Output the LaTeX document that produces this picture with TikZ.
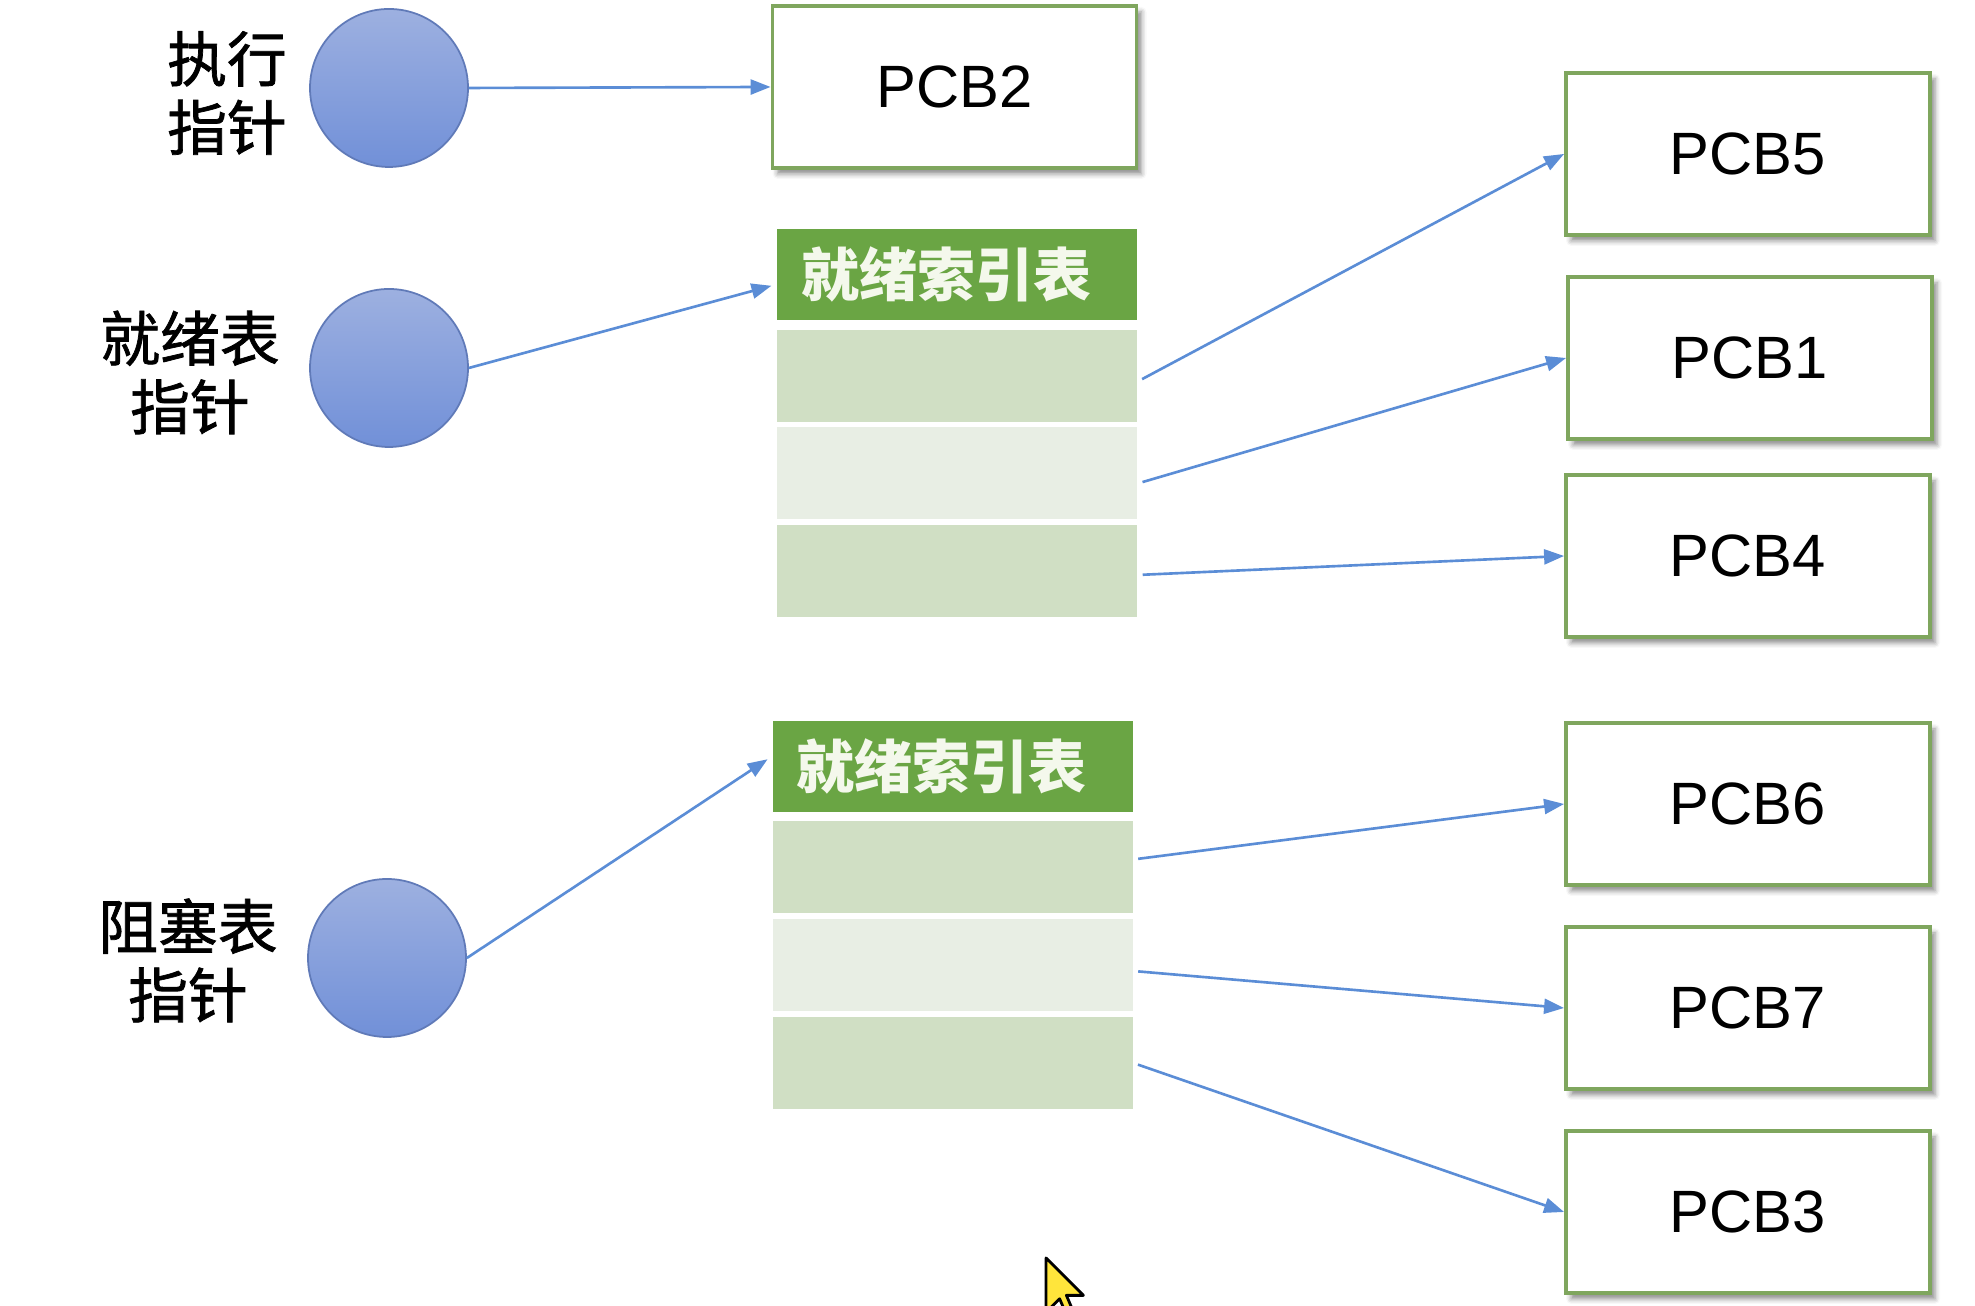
\documentclass[tikz,border=0pt]{standalone}
\usepackage{fontspec}
\setmainfont{Liberation Sans}
\newfontfamily\cjk[FakeBold=1.2]{Noto Sans CJK SC}
\newfontfamily\cjkhead{Noto Sans CJK SC}
\usetikzlibrary{shadows.blur,arrows.meta}

\definecolor{pcbgreen}{HTML}{7FA65E}
\definecolor{headgreen}{HTML}{6AA544}
\definecolor{headtext}{HTML}{F4F8EC}
\definecolor{rowdark}{HTML}{D0DFC4}
\definecolor{rowlight}{HTML}{E8EEE4}
\definecolor{ptrblue}{HTML}{5B8DD6}
\definecolor{balltop}{HTML}{9DB0E0}
\definecolor{ballbot}{HTML}{7190D8}
\definecolor{cursoryellow}{HTML}{FFE53B}

\begin{document}
\begin{tikzpicture}[
    pcb/.style={draw=pcbgreen, line width=1.1pt, fill=white,
        minimum width=3.64cm, minimum height=1.62cm,
        font=\fontsize{17}{20}\selectfont,
        blur shadow={shadow xshift=0.05cm, shadow yshift=-0.06cm,
            shadow blur radius=0.05cm, shadow opacity=45}},
    ball/.style={circle, minimum size=1.58cm, inner sep=0pt,
        draw=ballbot!85!black, line width=0.5pt, top color=balltop, bottom color=ballbot},
    lbl/.style={font=\cjk\fontsize{17}{19.5}\selectfont, align=center},
    head/.style={fill=headgreen, text=headtext, minimum width=3.6cm, minimum height=0.91cm,
        inner sep=0pt, font=\cjkhead\bfseries\fontsize{16.5}{20}\selectfont},
    cell/.style={minimum width=3.6cm, minimum height=0.92cm, inner sep=0pt},
    ptr/.style={draw=ptrblue, line width=0.75pt, -{Triangle[length=0.2cm, width=0.15cm]}}
]
    \useasboundingbox (0,0) rectangle (19.75,13.06);

    % --- Coordinates ---
    \coordinate (E) at (3.89,12.18);   % execution pointer
    \coordinate (R) at (3.89,9.38);    % ready pointer
    \coordinate (K) at (3.87,3.48);    % blocked pointer
    \coordinate (T1) at (9.57,10.315); % ready index table
    \coordinate (T2) at (9.525,5.395); % blocked index table

    % --- Pointer labels ---
    \node[lbl] (lblexec) at (2.27,12.13) {执行\\指针};
    \node[lbl] (lblrdy) at (1.90,9.335) {就绪表\\指针};
    \node[lbl] (lblblk) at (1.88,3.455) {阻塞表\\指针};

    % --- Pointer circles ---
    \node[ball] (exec) at (E) {};
    \node[ball] (rdy) at (R) {};
    \node[ball] (blk) at (K) {};

    % --- Index tables ---
    \node[head] (rdyhead) at (T1) {\hspace{-0.22cm}就绪索引表};
    \foreach \i/\y/\c in {1/9.295/rowdark, 2/8.325/rowlight, 3/7.35/rowdark}
        \node[cell, fill=\c] (rdy\i) at (9.57,\y) {};

    \node[head] (blkhead) at (T2) {\hspace{-0.22cm}就绪索引表};
    \foreach \i/\y/\c in {1/4.385/rowdark, 2/3.41/rowlight, 3/2.43/rowdark}
        \node[cell, fill=\c] (blk\i) at (9.525,\y) {};

    % --- PCB boxes ---
    \node[pcb] (pcb2) at (9.545,12.19) {PCB2};
    \node[pcb] (pcb5) at (17.48,11.52) {PCB5};
    \node[pcb] (pcb1) at (17.50,9.48) {PCB1};
    \node[pcb] (pcb4) at (17.48,7.50) {PCB4};
    \node[pcb] (pcb6) at (17.48,5.02) {PCB6};
    \node[pcb] (pcb7) at (17.48,2.98) {PCB7};
    \node[pcb] (pcb3) at (17.48,0.94) {PCB3};

    % --- Pointers ---
    \draw[ptr] (exec.east) -- (pcb2.west);
    \draw[ptr, shorten >=0.05cm] (rdy.east) -- ([yshift=-0.1cm]rdyhead.west);
    \draw[ptr, shorten >=0.05cm] (blk.east) -- ([yshift=0.1cm]blkhead.west);

    \draw[ptr, shorten <=0.05cm] ([yshift=-0.05cm]rdy1.east) -- (pcb5.west);
    \draw[ptr, shorten <=0.05cm] ([yshift=-0.1cm]rdy2.east) -- (pcb1.west);
    \draw[ptr, shorten <=0.05cm] ([yshift=-0.04cm]rdy3.east) -- (pcb4.west);

    \draw[ptr, shorten <=0.05cm] ([yshift=0.08cm]blk1.east) -- (pcb6.west);
    \draw[ptr, shorten <=0.05cm] ([yshift=-0.06cm]blk2.east) -- (pcb7.west);
    \draw[ptr, shorten <=0.05cm] (blk3.east) -- (pcb3.west);

    % --- Mouse cursor ---
    \begin{scope}
        \clip (0,0) rectangle (19.75,13.06);
        \draw[fill=cursoryellow, line width=0.8pt, line join=round, shift={(10.46,0.48)}, scale=0.034]
            (0,0) -- (0,-16) -- (4,-12) -- (7,-19) -- (9,-18) -- (6,-11) -- (11,-11) -- cycle;
    \end{scope}

\end{tikzpicture}
\end{document}
